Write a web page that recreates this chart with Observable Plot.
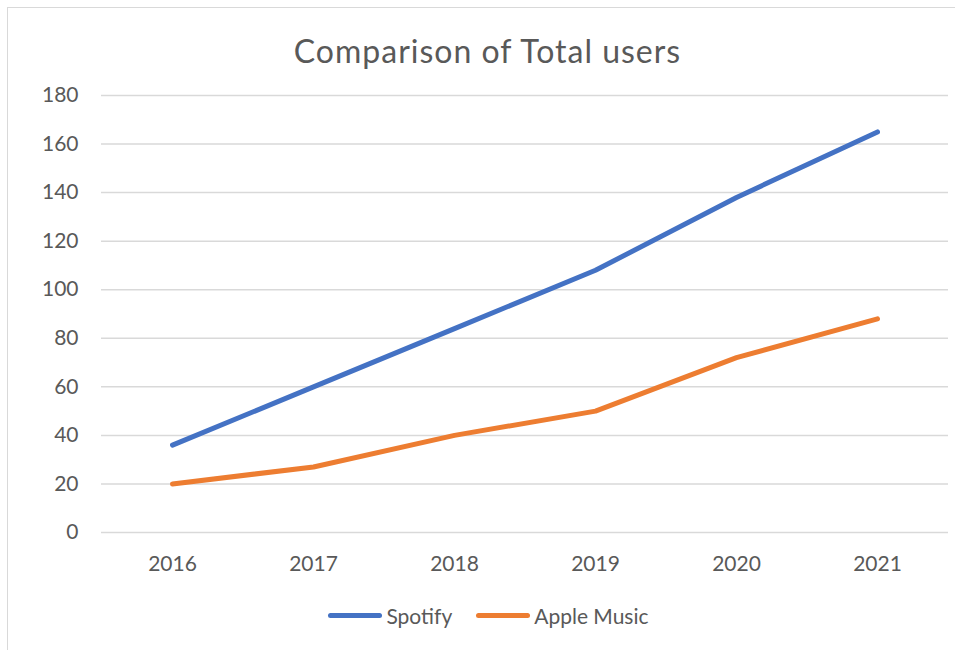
<!DOCTYPE html>
<html>
<head>
<meta charset="utf-8">
<script src="https://cdn.jsdelivr.net/npm/d3@7"></script>
<script src="https://cdn.jsdelivr.net/npm/@observablehq/plot@0.6"></script>
<style>
  html, body { margin: 0; padding: 0; background: #fff; }
  #wrap { position: relative; width: 955px; height: 650px; overflow: hidden; font-family: Lato, "Open Sans", sans-serif; color: #595959; }
  #frame { position: absolute; left: 7px; top: 7px; width: 1000px; height: 700px; border: 1px solid #d9d9d9; box-sizing: border-box; pointer-events: none; }
  #title { height: 32px; line-height: 32px; padding: 35px 0 13px 20px; font-size: 32px; letter-spacing: 1px; text-align: center; }
  #chart svg { display: block; }
  #legend { display: flex; justify-content: center; align-items: center; padding-left: 22px; height: 50px; font-size: 21px; }
  .item { display: flex; align-items: center; margin: 0 12px; }
  .sw { width: 54px; height: 5px; border-radius: 3px; margin-right: 4px; }
</style>
</head>
<body>
<div id="wrap">
  <div id="frame"></div>
  <div id="title"></div>
  <div id="chart"></div>
  <div id="legend"></div>
</div>
<script>
const titleText = "Comparison of Total users";
const years = ["2016", "2017", "2018", "2019", "2020", "2021"];
const seriesNames = ["Spotify", "Apple Music"];
const seriesColors = ["#4472C4", "#ED7D31"];
const spotify = [36, 60, 84, 108, 138, 165];
const appleMusic = [20, 27, 40, 50, 72, 88];
const yTicks = [0, 20, 40, 60, 80, 100, 120, 140, 160, 180];

const data = [
  ...years.map((y, i) => ({year: y, value: spotify[i], series: seriesNames[0]})),
  ...years.map((y, i) => ({year: y, value: appleMusic[i], series: seriesNames[1]}))
];

document.getElementById("title").textContent = titleText;

const chart = Plot.plot({
  width: 955,
  height: 510,
  marginTop: 15,
  marginBottom: 58,
  marginLeft: 101,
  marginRight: 7,
  style: {fontFamily: "Lato, 'Open Sans', sans-serif", fontSize: "21px", color: "#595959", background: "white"},
  x: {type: "point", domain: years, padding: 0.5, label: null, tickSize: 0, tickPadding: 24},
  y: {domain: [0, 180], ticks: yTicks, label: null, tickSize: 0, tickPadding: 23},
  color: {domain: seriesNames, range: seriesColors},
  marks: [
    Plot.ruleY(yTicks, {stroke: "#d9d9d9", strokeWidth: 1.5}),
    Plot.line(data, {x: "year", y: "value", z: "series", stroke: "series", strokeWidth: 5, strokeLinecap: "round", strokeLinejoin: "round"}),
    Plot.axisX({tickSize: 0, tickPadding: 24, fill: "#595959"}),
    Plot.axisY({ticks: yTicks, tickSize: 0, tickPadding: 23, fill: "#595959"})
  ]
});
document.getElementById("chart").appendChild(chart);

const legend = document.getElementById("legend");
seriesNames.forEach((name, i) => {
  const item = document.createElement("div");
  item.className = "item";
  const sw = document.createElement("div");
  sw.className = "sw";
  sw.style.background = seriesColors[i];
  const label = document.createElement("span");
  label.textContent = name;
  item.appendChild(sw);
  item.appendChild(label);
  legend.appendChild(item);
});
</script>
</body>
</html>
